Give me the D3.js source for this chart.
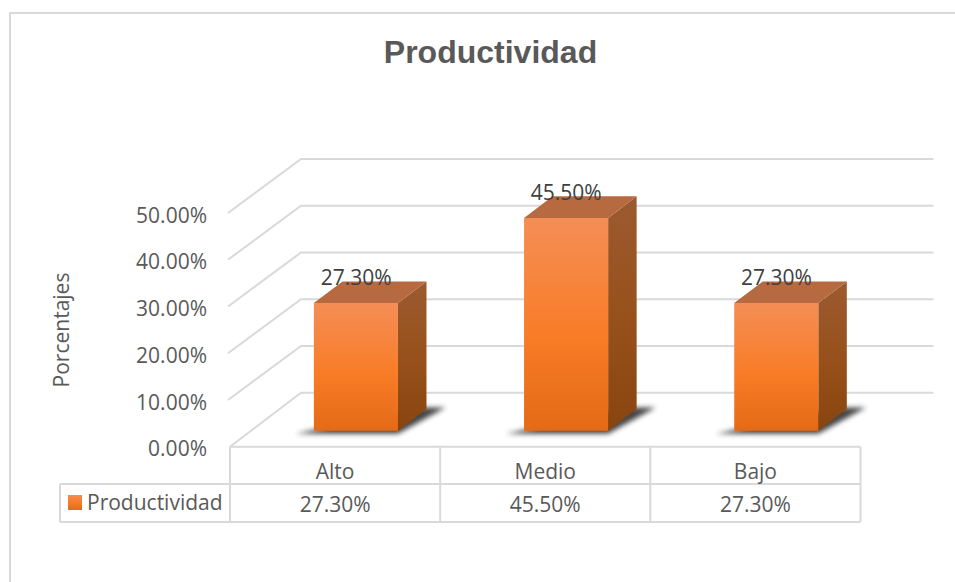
<!DOCTYPE html>
<html>
<head>
<meta charset="utf-8">
<style>
  html, body { margin: 0; padding: 0; background: #fff; }
  svg { display: block; }
  text { font-family: "Open Sans", sans-serif; }
</style>
<script src="https://cdn.jsdelivr.net/npm/d3@7/dist/d3.min.js"></script>
</head>
<body>
<script>
const categories = ["Alto", "Medio", "Bajo"];
const values = [27.3, 45.5, 27.3];
const ticks = [0, 10, 20, 30, 40, 50];
const chartTitle = "Productividad";
const axisTitle = "Porcentajes";
const seriesName = "Productividad";

const W = 955, H = 582;
const grey = "#d9d9d9";
const svg = d3.select("body").append("svg").attr("width", W).attr("height", H);

// Oblique projection: value, category position and floor depth map to the page.
const x = d3.scaleBand().domain(categories).range([230, 860.5]).paddingInner(0).paddingOuter(0);
const y = d3.scaleLinear().domain([0, 50]).range([446.7, 213]);
const depthX = d3.scaleLinear().domain([0, 1]).range([0, 71]);
const depthY = d3.scaleLinear().domain([0, 1]).range([0, -54]);
const project = (px, v, d) => [px + depthX(d), y(v) + depthY(d)];
const fmt = v => v.toFixed(2) + "%";
const poly = pts => pts.map(p => p.join(",")).join(" ");

const defs = svg.append("defs");
function vGrad(id, stops) {
  const g = defs.append("linearGradient").attr("id", id)
    .attr("x1", 0).attr("y1", 0).attr("x2", 0).attr("y2", 1);
  stops.forEach(([o, c]) => g.append("stop").attr("offset", o).attr("stop-color", c));
}
vGrad("front", [[0, "#f48e56"], [0.55, "#f97c27"], [1, "#e46a15"]]);
vGrad("side", [[0, "#9c5a30"], [0.55, "#97501a"], [1, "#88440f"]]);
vGrad("swatch", [[0, "#f58c4e"], [0.55, "#f67b25"], [1, "#e56b16"]]);
defs.append("filter").attr("id", "soft")
  .attr("x", "-30%").attr("y", "-50%").attr("width", "160%").attr("height", "200%")
  .append("feGaussianBlur").attr("stdDeviation", 2.6);

// Outer frame of the chart area
svg.append("path").attr("d", `M10,${H}V13H${W}`)
  .attr("fill", "none").attr("stroke", grey).attr("stroke-width", 2);

// Title
svg.append("text").attr("x", 490.5).attr("y", 63).attr("text-anchor", "middle")
  .style("font-family", '"Liberation Sans", Arial, sans-serif')
  .attr("font-size", 32).attr("font-weight", 700).attr("fill", "#595959").text(chartTitle);

// Floor and back-wall gridlines
const gridEnd = x.range()[1] + 2;
ticks.forEach(t => {
  const front = project(x.range()[0] - (t ? 2 : 0), t, 0);
  const back = project(x.range()[0], t, 1);
  const right = project(gridEnd, t, 1);
  svg.append("polyline").attr("points", poly([front, back, right]))
    .attr("fill", "none").attr("stroke", grey).attr("stroke-width", 2);
});

// Value axis labels
const axis = d3.axisLeft(y).tickValues(ticks).tickSize(0).tickPadding(0).tickFormat(fmt);
const axisG = svg.append("g").attr("transform", "translate(207,2.5)").call(axis);
axisG.select(".domain").remove();
axisG.selectAll("text").style("font-family", '"Open Sans", sans-serif')
  .attr("font-size", 21).attr("fill", "#595959");

svg.append("text").attr("transform", "translate(69,330) rotate(-90)")
  .attr("text-anchor", "middle").attr("font-size", 21).attr("fill", "#595959").text(axisTitle);

// Bars: three faces each, with a blurred shadow cast on the floor
const gap = x.bandwidth() * 0.3;
const barW = x.bandwidth() * 0.4;
const d0 = 16 / 54, d1 = 37.7 / 54;

categories.forEach((c, i) => {
  const left = x(c) + gap - 0.2;
  const v = values[i];
  const g = svg.append("g");
  const fl = project(left, 0, d0), fr = project(left + barW, 0, d0), br = project(left + barW, 0, d1);
  g.append("polygon")
    .attr("points", poly([[fl[0] - 18, fl[1] + 3], [fr[0], fr[1] + 3], [br[0] + 19, br[1] - 1.5], [br[0] - 8, br[1] - 1.5]]))
    .attr("fill", "#333").attr("opacity", 0.9).attr("filter", "url(#soft)");
  const ftl = project(left, v, d0), ftr = project(left + barW, v, d0), btr = project(left + barW, v, d1), btl = project(left, v, d1);
  g.append("polygon").attr("points", poly([fr, br, btr, ftr])).attr("fill", "url(#side)");
  g.append("polygon").attr("points", poly([ftl, ftr, btr, btl])).attr("fill", "#b7693f");
  g.append("polygon").attr("points", poly([fl, fr, ftr, ftl])).attr("fill", "url(#front)");
  g.append("text").attr("x", x(c) + x.bandwidth() * 0.5 + 21).attr("y", ftl[1] - 18)
    .attr("text-anchor", "middle").attr("font-size", 21).attr("fill", "#404040").text(fmt(v));
});

// Data table under the plot
const rows = [446.7, 484, 522];
const lineG = svg.append("g").attr("stroke", grey).attr("stroke-width", 2).attr("fill", "none");
lineG.append("line").attr("x1", 230).attr("x2", 860).attr("y1", rows[0]).attr("y2", rows[0]);
lineG.append("line").attr("x1", 60).attr("x2", 860).attr("y1", rows[1]).attr("y2", rows[1]);
lineG.append("line").attr("x1", 60).attr("x2", 860).attr("y1", rows[2]).attr("y2", rows[2]);
lineG.append("line").attr("x1", 60).attr("x2", 60).attr("y1", rows[1]).attr("y2", rows[2]);
[...categories.map(c => x(c)), x.range()[1]].forEach(px => {
  lineG.append("line").attr("x1", px).attr("x2", px).attr("y1", rows[0]).attr("y2", rows[2]);
});
categories.forEach((c, i) => {
  const cx = x(c) + x.bandwidth() / 2;
  svg.append("text").attr("x", cx).attr("y", 479).attr("text-anchor", "middle")
    .attr("font-size", 21).attr("fill", "#595959").text(c);
  svg.append("text").attr("x", cx).attr("y", 512).attr("text-anchor", "middle")
    .attr("font-size", 21).attr("fill", "#595959").text(fmt(values[i]));
});
svg.append("rect").attr("x", 68).attr("y", 495).attr("width", 14).attr("height", 15).attr("fill", "url(#swatch)");
svg.append("text").attr("x", 87).attr("y", 510).attr("font-size", 21).attr("fill", "#595959").text(seriesName);
</script>
</body>
</html>
